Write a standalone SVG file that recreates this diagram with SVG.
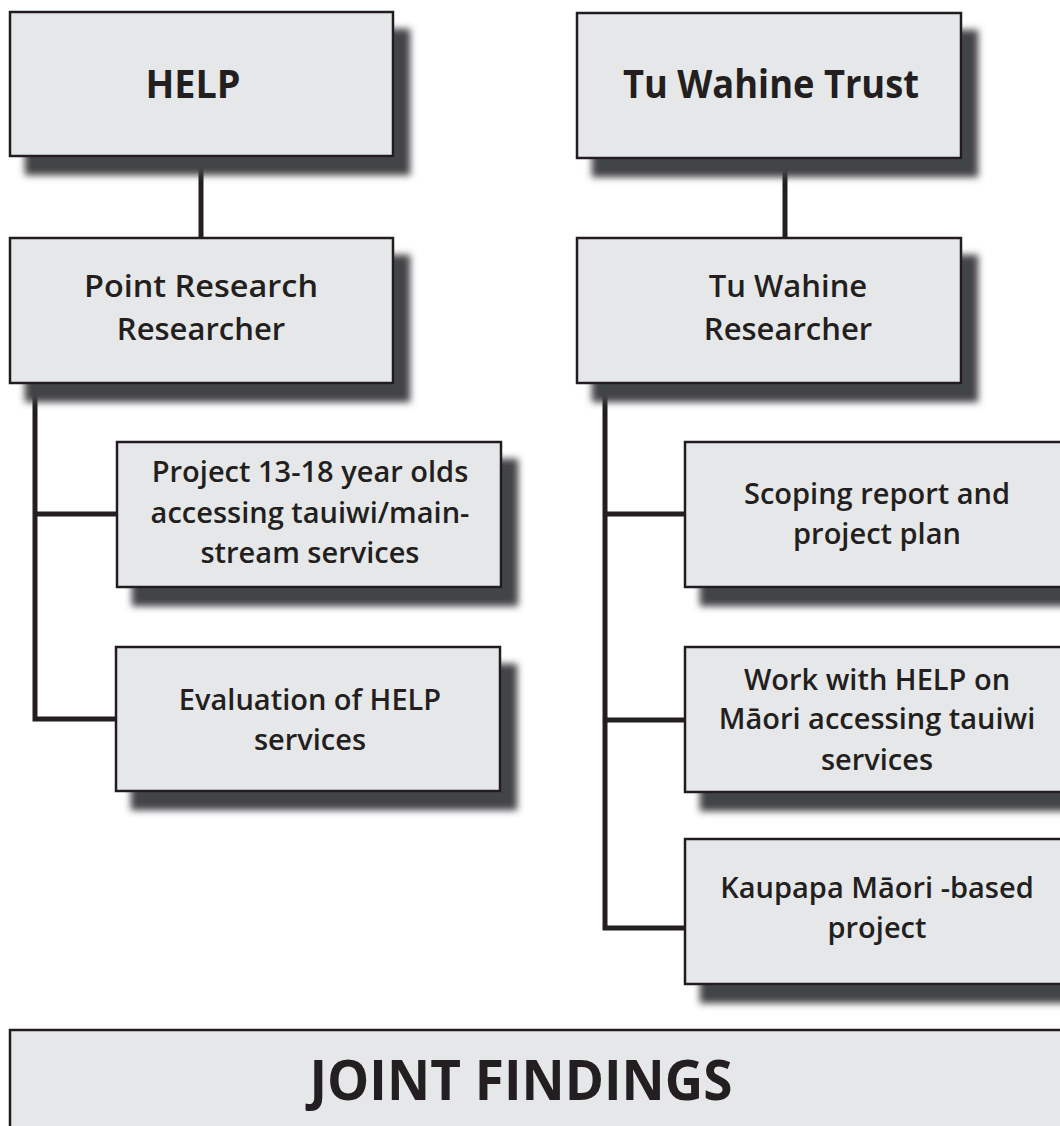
<svg xmlns="http://www.w3.org/2000/svg" width="1060" height="1126" viewBox="0 0 1060 1126">
<defs>
<filter id="sh" x="-10%" y="-15%" width="130%" height="150%">
<feGaussianBlur in="SourceAlpha" stdDeviation="3.5" result="b"/>
<feOffset in="b" dx="16" dy="18" result="o"/>
<feFlood flood-color="#434446" result="c"/>
<feComposite in="c" in2="o" operator="in" result="s"/>
<feMerge><feMergeNode in="s"/><feMergeNode in="SourceGraphic"/></feMerge>
</filter>
</defs>
<style>
.box{fill:#e6e7e8;stroke:#231f20;stroke-width:2.5;filter:url(#sh)}
.t{font-family:"Open Sans","Noto Sans",sans-serif;fill:#231f20;text-anchor:middle}
.b{font-weight:700}
.s{font-weight:600}
.ln{fill:none;stroke:#231f20;stroke-width:5;stroke-linejoin:miter;stroke-linecap:butt}
</style>
<rect width="1060" height="1126" fill="#ffffff"/>
<g id="connectors">
<path class="ln" d="M201,156 V238"/>
<path class="ln" d="M785,161 V240"/>
<path class="ln" d="M35,383 V719 H117"/>
<path class="ln" d="M35,514 H117"/>
<path class="ln" d="M605,383 V928 H685"/>
<path class="ln" d="M605,514 H685"/>
<path class="ln" d="M605,720 H685"/>
</g>
<g id="help">
<rect class="box" x="10" y="12" width="383" height="144"/>
<text class="t b" x="193" y="98" font-size="40" textLength="95" lengthAdjust="spacingAndGlyphs">HELP</text>
</g>
<g id="tuwahine-trust">
<rect class="box" x="577" y="13" width="384" height="145"/>
<text class="t b" x="771" y="98" font-size="40" textLength="296" lengthAdjust="spacingAndGlyphs">Tu Wahine Trust</text>
</g>
<g id="point-research">
<rect class="box" x="10" y="238" width="383" height="145"/>
<text class="t s" x="201" y="297" font-size="31" textLength="234" lengthAdjust="spacingAndGlyphs">Point Research</text>
<text class="t s" x="201" y="340" font-size="31">Researcher</text>
</g>
<g id="tuwahine-researcher">
<rect class="box" x="577" y="238" width="384" height="145"/>
<text class="t s" x="788" y="297" font-size="31">Tu Wahine</text>
<text class="t s" x="788" y="340" font-size="31">Researcher</text>
</g>
<g id="project-13-18">
<rect class="box" x="117" y="442" width="384" height="145"/>
<text class="t s" x="310" y="482" font-size="29">Project 13-18 year olds</text>
<text class="t s" x="310" y="523" font-size="29">accessing tauiwi/main-</text>
<text class="t s" x="310" y="563" font-size="29">stream services</text>
</g>
<g id="evaluation">
<rect class="box" x="116" y="647" width="384" height="144"/>
<text class="t s" x="310" y="710" font-size="29">Evaluation of HELP</text>
<text class="t s" x="310" y="750" font-size="29">services</text>
</g>
<g id="scoping">
<rect class="box" x="685" y="442" width="384" height="145"/>
<text class="t s" x="877" y="504" font-size="29">Scoping report and</text>
<text class="t s" x="877" y="544" font-size="29">project plan</text>
</g>
<g id="work-with-help">
<rect class="box" x="685" y="647" width="384" height="145"/>
<text class="t s" x="877" y="690" font-size="29">Work with HELP on</text>
<text class="t s" x="877" y="729" font-size="29">Māori accessing tauiwi</text>
<text class="t s" x="877" y="770" font-size="29">services</text>
</g>
<g id="kaupapa">
<rect class="box" x="685" y="839" width="384" height="145"/>
<text class="t s" x="877" y="898" font-size="29">Kaupapa Māori -based</text>
<text class="t s" x="877" y="938" font-size="29">project</text>
</g>
<g id="joint-findings">
<rect class="box" x="10" y="1030" width="1070" height="150"/>
<text class="t b" x="521" y="1100" font-size="56" textLength="423" lengthAdjust="spacingAndGlyphs">JOINT FINDINGS</text>
</g>
</svg>
